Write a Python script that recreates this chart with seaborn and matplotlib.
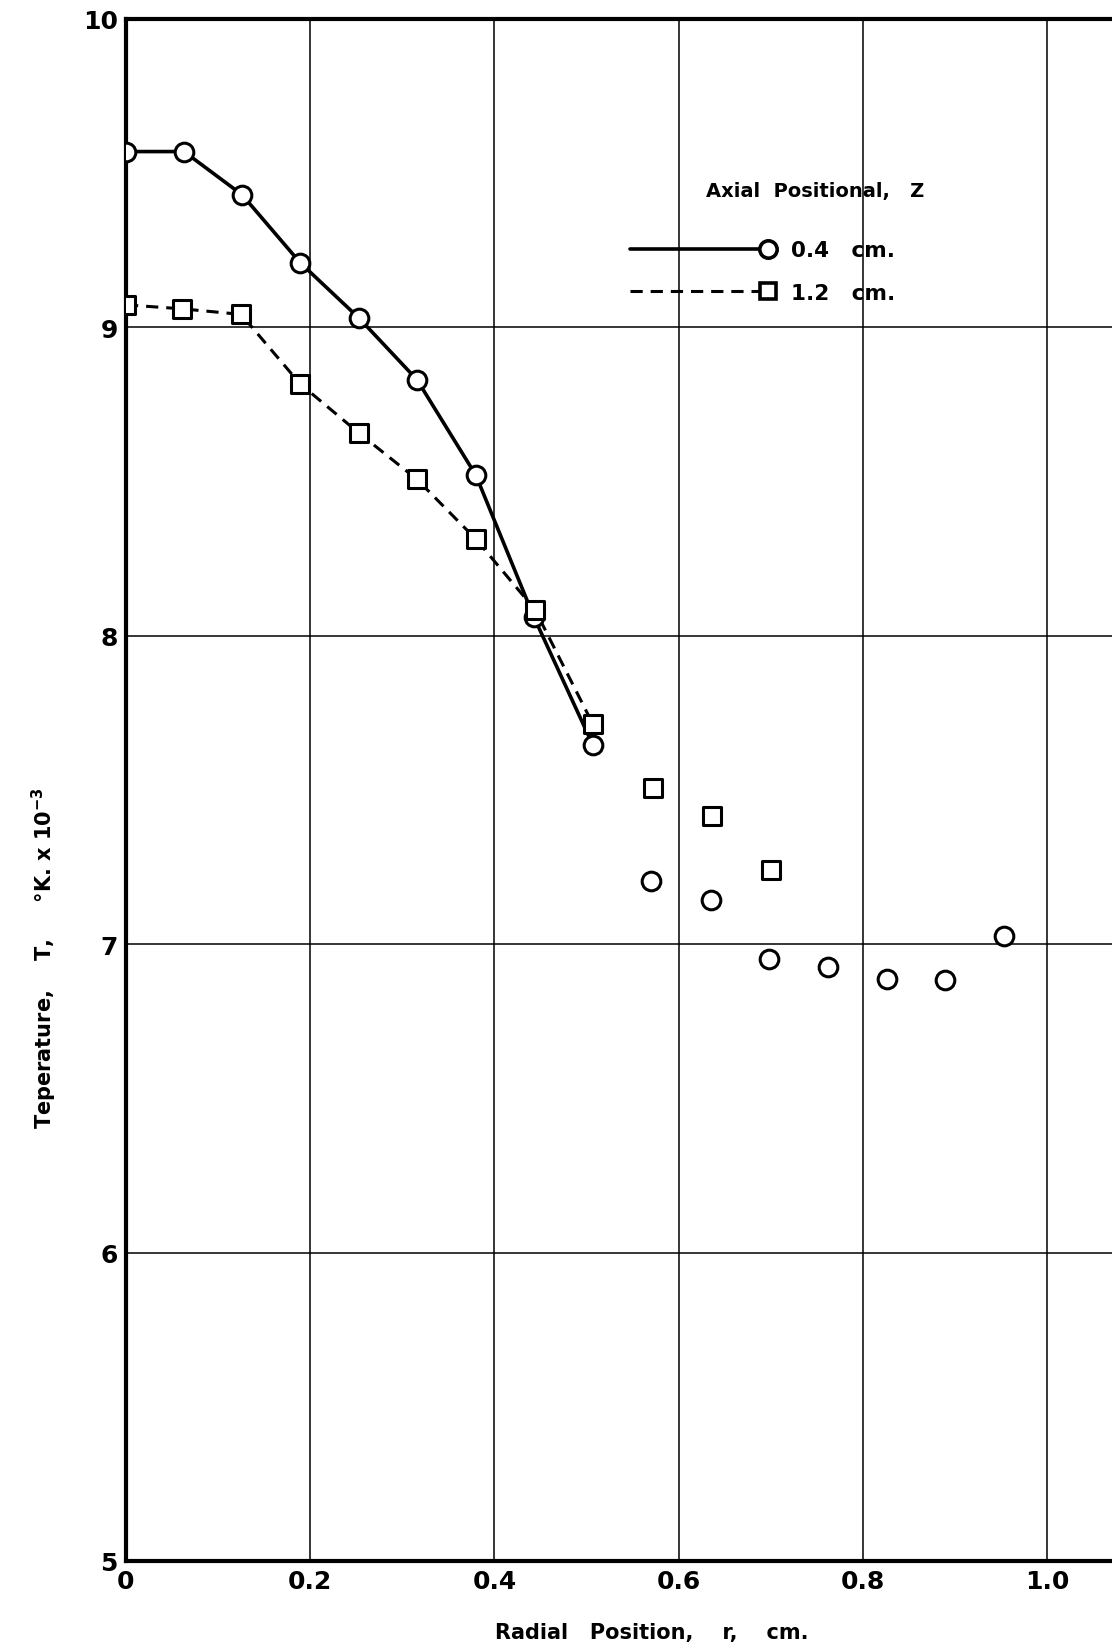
import matplotlib
matplotlib.use("Agg")
import matplotlib.pyplot as plt
import seaborn as sns
import pandas as pd
from matplotlib.lines import Line2D
from matplotlib.legend_handler import HandlerLine2D

# radial position r (cm) and temperature (K x 10^-3)
r_04 = [0.0, 0.063, 0.126, 0.189, 0.253, 0.316, 0.380, 0.443, 0.507,
        0.570, 0.635, 0.698, 0.762, 0.826, 0.889, 0.953]
T_04 = [9.57, 9.57, 9.43, 9.21, 9.03, 8.83, 8.52, 8.06, 7.645,
        7.205, 7.144, 6.953, 6.926, 6.888, 6.885, 7.028]
r_12 = [0.0, 0.061, 0.125, 0.189, 0.253, 0.316, 0.380, 0.444, 0.507,
        0.572, 0.636, 0.700]
T_12 = [9.073, 9.06, 9.042, 8.817, 8.657, 8.507, 8.313, 8.085, 7.713,
        7.505, 7.416, 7.239]
n_curve = 9  # the drawn curves only go through the first points

x_ticks = [0, 0.2, 0.4, 0.6, 0.8, 1.0]
x_labels = ['0', '0.2', '0.4', '0.6', '0.8', '1.0']
y_ticks = [5, 6, 7, 8, 9, 10]
y_labels = ['5', '6', '7', '8', '9', '10']

df_04 = pd.DataFrame({'r': r_04, 'T': T_04})
df_12 = pd.DataFrame({'r': r_12, 'T': T_12})

sns.set_style("white")
plt.rcParams['font.family'] = ['DejaVu Sans']
plt.rcParams['font.weight'] = 'bold'
plt.rcParams['mathtext.default'] = 'bf'
plt.rcParams['text.color'] = 'black'
plt.rcParams['xtick.color'] = 'black'
plt.rcParams['ytick.color'] = 'black'

fig = plt.figure(figsize=(11.12, 16.49), dpi=100)
ax = fig.add_axes([0.1133, 0.0528, 0.8867, 0.9351])

# curves
sns.lineplot(data=df_04.iloc[:n_curve], x='r', y='T', color='black', lw=2.6,
             sort=False, ax=ax, zorder=2)
sns.lineplot(data=df_12.iloc[:n_curve], x='r', y='T', color='black', lw=2.2,
             linestyle=(0, (4, 2.6)), sort=False, ax=ax, zorder=2)

# points
sns.scatterplot(data=df_04, x='r', y='T', marker='o', s=180, facecolor='white',
                edgecolor='black', linewidth=2.2, ax=ax, zorder=3)
sns.scatterplot(data=df_12, x='r', y='T', marker='s', s=150, facecolor='white',
                edgecolor='black', linewidth=2.2, ax=ax, zorder=3)

ax.set_xlim(0, 1.0706)
ax.set_ylim(5, 10)
ax.set_xticks(x_ticks)
ax.set_xticklabels(x_labels, fontsize=18, fontweight='bold')
ax.set_yticks(y_ticks)
ax.set_yticklabels(y_labels, fontsize=18, fontweight='bold')
ax.tick_params(length=0, pad=6)
ax.grid(True, color='black', lw=1.1)
ax.set_axisbelow(True)
ax.set_xlabel('')
ax.set_ylabel('')

for s in ['left', 'top', 'bottom']:
    ax.spines[s].set_linewidth(3)
    ax.spines[s].set_color('black')
ax.spines['right'].set_visible(False)


class EndMarkerHandler(HandlerLine2D):
    def create_artists(self, *args, **kwargs):
        arts = super().create_artists(*args, **kwargs)
        for a in arts:
            if a.get_marker() not in (None, 'None', ''):
                a.set_markevery([len(a.get_xdata()) - 1])
        return arts


handles = [
    Line2D([], [], color='black', lw=2.6, marker='o', ms=12.5, mfc='white', mew=2.6),
    Line2D([], [], color='black', lw=2.2, ls=(0, (4, 2.6)), marker='s', ms=11.5,
           mfc='white', mew=2.6),
]
ax.legend(handles, ['0.4   cm.', '1.2   cm.'], loc='upper left',
          bbox_to_anchor=(0.511, 0.8565), frameon=False, fontsize=15.5,
          handlelength=6.4, handletextpad=1.1, labelspacing=1.05,
          borderpad=0, borderaxespad=0, numpoints=1,
          handler_map={Line2D: EndMarkerHandler()})
ax.text(0.699, 0.8885, 'Axial  Positional,   Z', transform=ax.transAxes,
        ha='center', va='center', fontsize=14, fontweight='bold')

fig.text(0.040, 0.419, 'Teperature,    T,     °K. x 10$^{-3}$', rotation=90,
         ha='center', va='center', fontsize=15, fontweight='bold')
fig.text(0.586, 0.0095, 'Radial   Position,    r,    cm.', ha='center',
         va='center', fontsize=15, fontweight='bold')

fig.savefig('out.png', dpi=100)
